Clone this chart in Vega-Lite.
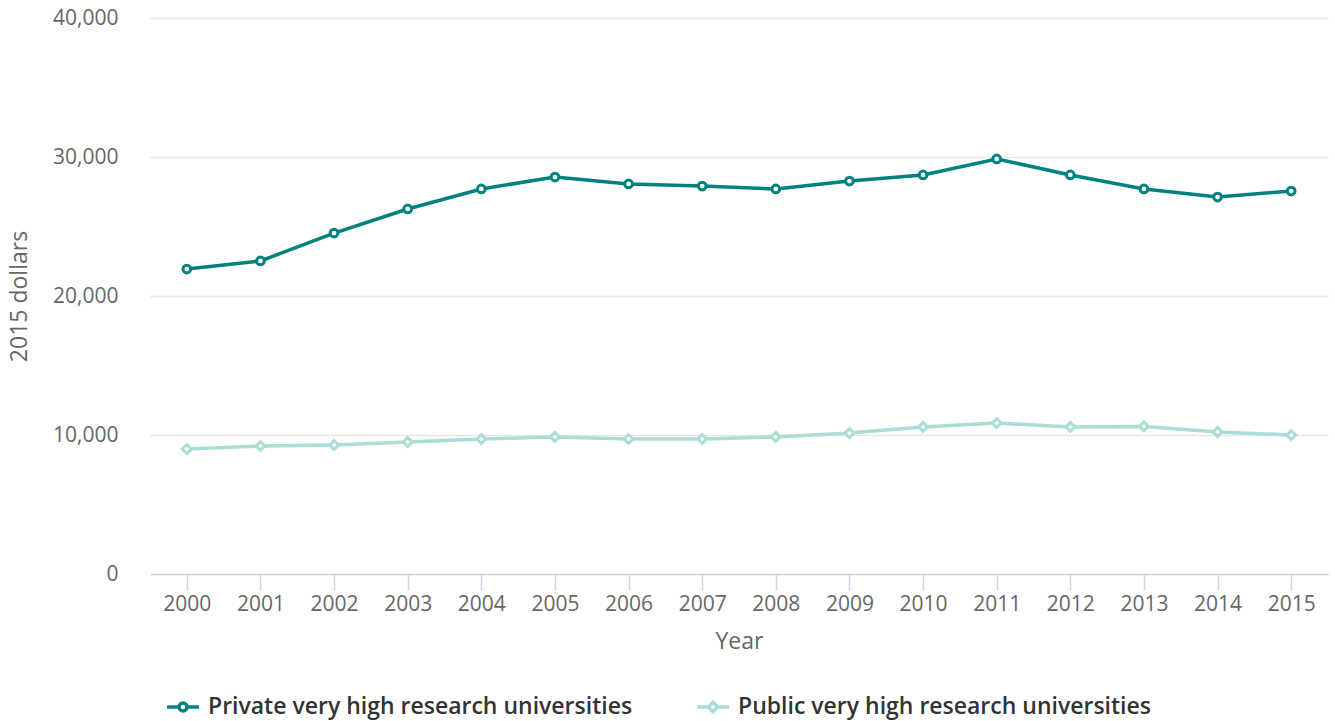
{
  "$schema": "https://vega.github.io/schema/vega-lite/v6.json",
  "width": 1178,
  "height": 556,
  "autosize": {"type": "none"},
  "padding": {"left": 150, "top": 18, "right": 7, "bottom": 147},
  "background": "white",
  "config": {
    "view": {"stroke": null},
    "font": "Open Sans",
    "axis": {"labelFont": "Open Sans", "titleFont": "Open Sans", "labelColor": "#666666", "titleColor": "#666666", "labelFontSize": 21, "titleFontSize": 23, "titleFontWeight": "normal"}
  },
  "data": {
    "values": [
      {"year": "2000", "series": "Private very high research universities", "value": 21940},
      {"year": "2001", "series": "Private very high research universities", "value": 22520},
      {"year": "2002", "series": "Private very high research universities", "value": 24530},
      {"year": "2003", "series": "Private very high research universities", "value": 26260},
      {"year": "2004", "series": "Private very high research universities", "value": 27700},
      {"year": "2005", "series": "Private very high research universities", "value": 28560},
      {"year": "2006", "series": "Private very high research universities", "value": 28060},
      {"year": "2007", "series": "Private very high research universities", "value": 27910},
      {"year": "2008", "series": "Private very high research universities", "value": 27700},
      {"year": "2009", "series": "Private very high research universities", "value": 28270},
      {"year": "2010", "series": "Private very high research universities", "value": 28710},
      {"year": "2011", "series": "Private very high research universities", "value": 29860},
      {"year": "2012", "series": "Private very high research universities", "value": 28710},
      {"year": "2013", "series": "Private very high research universities", "value": 27700},
      {"year": "2014", "series": "Private very high research universities", "value": 27120},
      {"year": "2015", "series": "Private very high research universities", "value": 27550},
      {"year": "2000", "series": "Public very high research universities", "value": 8990},
      {"year": "2001", "series": "Public very high research universities", "value": 9210},
      {"year": "2002", "series": "Public very high research universities", "value": 9280},
      {"year": "2003", "series": "Public very high research universities", "value": 9500},
      {"year": "2004", "series": "Public very high research universities", "value": 9710},
      {"year": "2005", "series": "Public very high research universities", "value": 9860},
      {"year": "2006", "series": "Public very high research universities", "value": 9710},
      {"year": "2007", "series": "Public very high research universities", "value": 9710},
      {"year": "2008", "series": "Public very high research universities", "value": 9860},
      {"year": "2009", "series": "Public very high research universities", "value": 10140},
      {"year": "2010", "series": "Public very high research universities", "value": 10580},
      {"year": "2011", "series": "Public very high research universities", "value": 10860},
      {"year": "2012", "series": "Public very high research universities", "value": 10580},
      {"year": "2013", "series": "Public very high research universities", "value": 10620},
      {"year": "2014", "series": "Public very high research universities", "value": 10220},
      {"year": "2015", "series": "Public very high research universities", "value": 10000}
    ]
  },
  "encoding": {
    "x": {
      "field": "year", "type": "ordinal", "title": "Year",
      "scale": {"type": "point", "padding": 0.5},
      "axis": {"labelAngle": 0, "domainColor": "#ccd6eb", "domainWidth": 1.5, "tickColor": "#ccd6eb", "tickWidth": 1.5, "tickSize": 16, "labelPadding": 3, "titlePadding": 16, "grid": false}
    },
    "y": {
      "field": "value", "type": "quantitative", "title": "2015 dollars",
      "scale": {"domain": [0, 40000], "nice": false},
      "axis": {"values": [0, 10000, 20000, 30000, 40000], "format": ",d", "domain": false, "ticks": false, "labelPadding": 32, "titlePadding": 21, "gridColor": "#e6e6e6", "gridWidth": 1.5}
    }
  },
  "layer": [
    {
      "mark": {"type": "line", "strokeWidth": 3.5},
      "encoding": {
        "color": {
          "field": "series", "type": "nominal",
          "scale": {"domain": ["Private very high research universities", "Public very high research universities"], "range": ["#00827e", "#abddd7"]},
          "legend": {
            "title": null, "orient": "none", "direction": "horizontal", "legendX": 15, "legendY": 671,
            "padding": 0, "symbolSize": 1024, "symbolStrokeWidth": 3.5, "labelOffset": 7, "columnPadding": 57,
            "labelFont": "Open Sans", "labelFontSize": 23, "labelFontWeight": 600, "labelColor": "#333333", "labelLimit": 700,
            "encode": {
              "symbols": {
                "update": {
                  "shape": {"signal": "datum.value == 'Private very high research universities' ? 'M-1,0H-0.25M0.25,0H1M-0.25,0A0.25,0.25,0,1,0,0.25,0A0.25,0.25,0,1,0,-0.25,0Z' : 'M-1,0H-0.3M0.3,0H1M-0.3,0L0,-0.3L0.3,0L0,0.3Z'"},
                  "fill": {"value": "white"}
                }
              }
            }
          }
        }
      }
    },
    {
      "transform": [{"filter": "datum.series == 'Private very high research universities'"}],
      "mark": {"type": "point", "shape": "circle", "filled": true, "fill": "white", "stroke": "#00827e", "strokeWidth": 3, "size": 60, "opacity": 1}
    },
    {
      "transform": [{"filter": "datum.series == 'Public very high research universities'"}],
      "mark": {"type": "point", "shape": "diamond", "filled": true, "fill": "white", "stroke": "#abddd7", "strokeWidth": 3, "size": 80, "opacity": 1}
    }
  ]
}
